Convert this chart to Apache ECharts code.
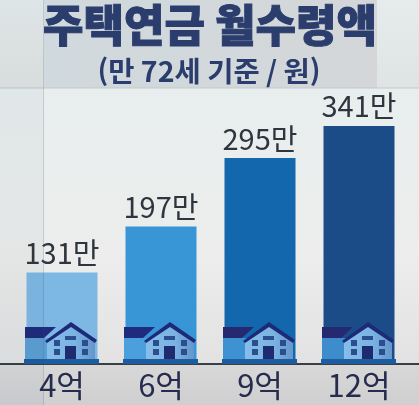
<!DOCTYPE html>
<html lang="ko">
<head>
<meta charset="utf-8">
<style>html,body{margin:0;padding:0;background:#dfe3e3}#chart{width:419px;height:405px}</style>
<script src="https://cdn.jsdelivr.net/npm/echarts@6/dist/echarts.min.js"></script>
</head>
<body>
<div id="chart"></div>
<script>
// Monthly housing pension payout by home value (age 72, unit: 10,000 won)
const categories = ['4억', '6억', '9억', '12억'];
const payouts = [131, 197, 295, 341];
const barColors = ['#7db8e4', '#3896d6', '#1367ad', '#1b4c88'];
const wingColors = ['#5c9fd2', '#4a9fdc', '#3f92d2', '#3d8ccb'];
const bandColors = ['#1f2b7c', '#1f2b7c', '#25296f', '#25296f'];

const FONT = '"Noto Sans CJK KR","Noto Sans",sans-serif';
const NAVY = '#2b3d6c';

// House icon, drawn relative to the foot of each bar
function renderHouse(params, api) {
  const i = api.value(0);
  const p = api.coord([i, 0]);
  const roof = '#1c2a78';
  const win = '#2a4f8c';
  const rect = (x, y, width, height, fill) => ({ type: 'rect', shape: { x, y, width, height }, style: { fill } });
  const poly = (points, fill) => ({ type: 'polygon', shape: { points }, style: { fill } });
  return {
    type: 'group',
    x: p[0],
    y: p[1],
    children: [
      rect(-37, -26, 24, 22, wingColors[i]),
      poly([[-37, -37], [-6, -37], [-18, -26], [-37, -26]], bandColors[i]),
      poly([[-15, -24], [9, -38], [33, -24], [33, -4], [-15, -4]], {
        type: 'linear', x: 0, y: 0, x2: 1, y2: 0,
        colorStops: [{ offset: 0, color: '#86bdea' }, { offset: 0.6, color: '#7ab2e2' }, { offset: 1, color: '#6496cc' }]
      }),
      poly([[-17, -23], [9, -42], [35, -24], [33, -21], [9, -37], [-15, -21]], roof),
      rect(-38, -5, 75, 5, '#1d5c9f'),
      rect(-8, -24, 6, 6, win), rect(-8, -15, 6, 6, win),
      rect(20, -24, 6, 6, win), rect(20, -15, 6, 6, win),
      rect(3, -28, 11, 4, win),
      rect(3, -18, 11, 13, '#1f2b70')
    ]
  };
}

const chart = echarts.init(document.getElementById('chart'), null, { renderer: 'canvas' });
chart.setOption({
  animation: false,
  backgroundColor: 'transparent',
  grid: { left: 12.5, width: 396, top: 15, height: 349 },
  xAxis: {
    type: 'category',
    data: categories,
    axisTick: { show: false },
    axisLine: { lineStyle: { color: '#3a3f46', width: 2 } },
    axisLabel: { color: '#262c4e', fontFamily: FONT, fontSize: 31, margin: 6 }
  },
  yAxis: { type: 'value', min: 0, max: 500, show: false, splitLine: { show: false } },
  series: [
    {
      type: 'bar',
      barWidth: 71,
      data: payouts.map((value, i) => ({ value, itemStyle: { color: barColors[i] } })),
      label: {
        show: true,
        position: 'top',
        distance: 5,
        formatter: p => p.value + '만',
        color: '#2f353f',
        fontFamily: FONT,
        fontSize: 29
      },
      z: 2
    },
    {
      type: 'custom',
      data: categories.map((c, i) => [i]),
      renderItem: renderHouse,
      clip: false,
      silent: true,
      z: 3
    }
  ],
  graphic: [
    // Backdrop panels behind the plot
    { type: 'rect', z: -10, shape: { x: 0, y: 0, width: 419, height: 88 }, style: { fill: { type: 'linear', x: 0, y: 0, x2: 0, y2: 1, colorStops: [{ offset: 0, color: '#e6ecec' }, { offset: 1, color: '#dfe3e3' }] } } },
    { type: 'rect', z: -9, shape: { x: 44, y: 0, width: 333, height: 88 }, style: { fill: { type: 'linear', x: 0, y: 0, x2: 1, y2: 0, colorStops: [{ offset: 0, color: '#d0d9dd' }, { offset: 0.5, color: '#d2d8dc' }, { offset: 1, color: '#d4d6d8' }] } } },
    { type: 'rect', z: -10, shape: { x: 0, y: 88, width: 419, height: 276 }, style: { fill: { type: 'linear', x: 0, y: 0, x2: 0, y2: 1, colorStops: [{ offset: 0, color: '#e8eeee' }, { offset: 0.6, color: '#ecedec' }, { offset: 1, color: '#e2e2e2' }] } } },
    { type: 'rect', z: -10, shape: { x: 0, y: 364, width: 419, height: 41 }, style: { fill: { type: 'linear', x: 0, y: 0, x2: 0, y2: 1, colorStops: [{ offset: 0, color: '#d8d8d8' }, { offset: 1, color: '#cfcfd1' }] } } },
    { type: 'line', z: -8, shape: { x1: 0, y1: 88, x2: 419, y2: 88 }, style: { stroke: '#c2c8cb', lineWidth: 1 } },
    { type: 'line', z: -8, shape: { x1: 0, y1: 364, x2: 419, y2: 364 }, style: { stroke: '#3a3f46', lineWidth: 2 } },
    // Panel seam that runs across the whole figure
    { type: 'rect', z: 20, silent: true, shape: { x: 0, y: 0, width: 43, height: 405 }, style: { fill: 'rgba(30,50,80,0.035)' } },
    { type: 'line', z: 20, silent: true, shape: { x1: 43.5, y1: 0, x2: 43.5, y2: 405 }, style: { stroke: 'rgba(60,80,100,0.22)', lineWidth: 1 } },
    // Headline
    { type: 'text', z: 30, style: { x: 210, y: 25, text: '주택연금 월수령액', align: 'center', verticalAlign: 'middle', fontFamily: FONT, fontWeight: 900, fontSize: 44, fill: NAVY, stroke: NAVY, lineWidth: 1 } },
    { type: 'text', z: 30, style: { x: 209, y: 71, text: '(만 72세 기준 / 원)', align: 'center', verticalAlign: 'middle', fontFamily: FONT, fontWeight: 700, fontSize: 28.5, fill: NAVY } }
  ]
});
</script>
</body>
</html>
